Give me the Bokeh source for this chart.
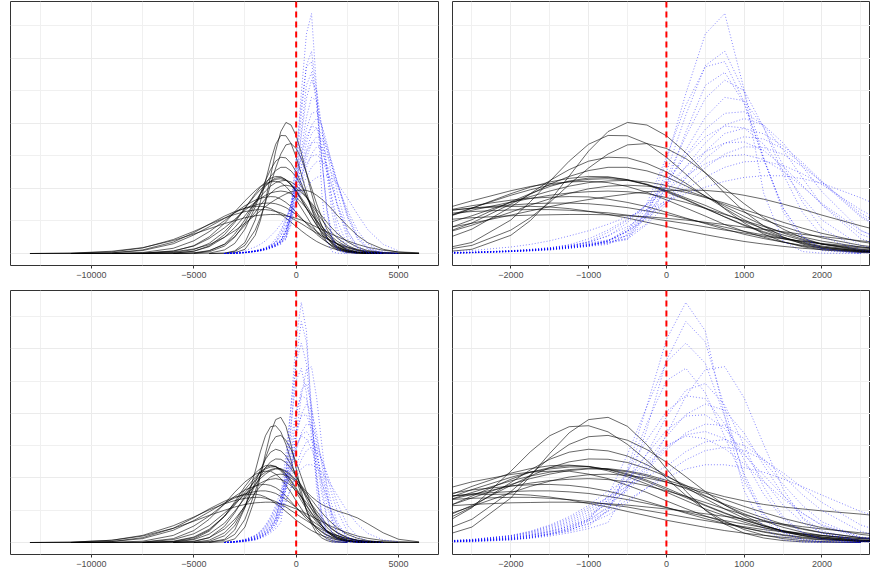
from bokeh.plotting import figure
from bokeh.layouts import column, row
from bokeh.models import Range1d, FixedTicker, Span
from bokeh.embed import file_html
from bokeh.resources import INLINE

# ---------------- data ----------------
X_GRID = [-13000, -11000, -9000, -7500, -6000, -5000, -4250, -3500, -3000, -2500,
          -2000, -1750, -1500, -1250, -1000, -750, -500, -250, 0, 250, 500, 750,
          1000, 1250, 1500, 1750, 2000, 2500, 3000, 3500, 4250, 5000, 6000]

TICKS_FULL = [-10000, -5000, 0, 5000]
MINOR_FULL = [-12500, -7500, -2500, 2500]
TICKS_ZOOM = [-2000, -1000, 0, 1000, 2000]
MINOR_ZOOM = [-2500, -1500, -500, 500, 1500, 2500]
Y_TICKS = [0, 2, 4, 6]
Y_MINOR = [1, 3, 5, 7]
REF_X = 0

# top dataset: (first x, density values on X_GRID from that x)
TOP_BLACK_01 = (-3500, [0.00, 0.02, 0.13, 0.56, 1.01, 1.62, 2.38, 3.15, 3.75, 4.03, 3.95, 3.62, 3.10, 2.48, 1.85, 1.29, 0.85, 0.51, 0.29, 0.16, 0.04, 0.01, 0.00])
TOP_BLACK_02 = (-4250, [0.00, 0.01, 0.08, 0.34, 1.03, 1.59, 2.22, 2.84, 3.36, 3.63, 3.62, 3.38, 2.96, 2.44, 1.89, 1.37, 0.94, 0.60, 0.36, 0.21, 0.11, 0.03, 0.00])
TOP_BLACK_03 = (-4250, [0.00, 0.01, 0.06, 0.25, 0.72, 1.10, 1.57, 2.12, 2.63, 3.06, 3.34, 3.38, 3.23, 2.92, 2.48, 2.01, 1.53, 1.10, 0.75, 0.48, 0.29, 0.09, 0.02, 0.00])
TOP_BLACK_04 = (-5000, [0.00, 0.01, 0.11, 0.31, 0.75, 1.43, 1.84, 2.24, 2.58, 2.84, 2.96, 2.94, 2.77, 2.51, 2.16, 1.76, 1.39, 1.04, 0.74, 0.50, 0.33, 0.20, 0.07, 0.02, 0.00])
TOP_BLACK_05 = (-6000, [0.00, 0.01, 0.05, 0.23, 0.50, 0.94, 1.52, 1.82, 2.13, 2.37, 2.55, 2.65, 2.65, 2.54, 2.35, 2.08, 1.77, 1.45, 1.14, 0.86, 0.63, 0.44, 0.29, 0.12, 0.04, 0.01, 0.00])
TOP_BLACK_06 = (-9000, [0.00, 0.00, 0.01, 0.07, 0.23, 0.58, 0.95, 1.39, 1.84, 2.04, 2.20, 2.31, 2.37, 2.36, 2.27, 2.11, 1.89, 1.65, 1.38, 1.13, 0.88, 0.67, 0.49, 0.35, 0.23, 0.10, 0.04, 0.01, 0.00])
TOP_BLACK_07 = (-9000, [0.00, 0.00, 0.03, 0.12, 0.31, 0.67, 1.00, 1.40, 1.79, 1.96, 2.10, 2.21, 2.28, 2.30, 2.25, 2.12, 1.92, 1.67, 1.40, 1.12, 0.86, 0.64, 0.46, 0.31, 0.20, 0.08, 0.03, 0.01, 0.00])
TOP_BLACK_08 = (-7500, [0.00, 0.01, 0.07, 0.21, 0.50, 0.80, 1.16, 1.57, 1.75, 1.92, 2.07, 2.18, 2.23, 2.25, 2.20, 2.09, 1.94, 1.74, 1.50, 1.27, 1.04, 0.83, 0.64, 0.48, 0.25, 0.11, 0.05, 0.01, 0.00])
TOP_BLACK_09 = (-11000, [0.00, 0.00, 0.01, 0.07, 0.24, 0.51, 0.93, 1.28, 1.62, 1.93, 2.06, 2.15, 2.20, 2.22, 2.18, 2.06, 1.88, 1.65, 1.40, 1.15, 0.89, 0.68, 0.50, 0.35, 0.23, 0.15, 0.06, 0.02, 0.01, 0.00])
TOP_BLACK_10 = (-11000, [0.00, 0.00, 0.01, 0.08, 0.23, 0.46, 0.79, 1.05, 1.33, 1.58, 1.69, 1.79, 1.86, 1.90, 1.92, 1.90, 1.84, 1.72, 1.57, 1.39, 1.20, 1.01, 0.83, 0.65, 0.51, 0.38, 0.20, 0.09, 0.04, 0.01, 0.00])
TOP_BLACK_11 = (-9000, [0.00, 0.01, 0.05, 0.14, 0.27, 0.50, 0.70, 0.93, 1.18, 1.31, 1.44, 1.56, 1.66, 1.75, 1.83, 1.90, 1.93, 1.95, 1.94, 1.89, 1.79, 1.67, 1.52, 1.36, 1.18, 0.85, 0.55, 0.33, 0.13, 0.04, 0.01])
TOP_BLACK_12 = (-13000, [0.00, 0.00, 0.02, 0.09, 0.30, 0.57, 0.82, 1.08, 1.26, 1.40, 1.49, 1.53, 1.55, 1.55, 1.53, 1.48, 1.41, 1.31, 1.20, 1.07, 0.94, 0.81, 0.68, 0.57, 0.46, 0.37, 0.29, 0.17, 0.09, 0.04, 0.01, 0.00, 0.00])
TOP_BLACK_13 = (-13000, [0.00, 0.01, 0.05, 0.17, 0.43, 0.68, 0.89, 1.09, 1.20, 1.29, 1.34, 1.35, 1.35, 1.33, 1.29, 1.25, 1.18, 1.10, 1.01, 0.92, 0.82, 0.72, 0.63, 0.53, 0.45, 0.38, 0.31, 0.20, 0.12, 0.07, 0.03, 0.01, 0.00])
TOP_BLACK_14 = (-13000, [0.00, 0.01, 0.07, 0.18, 0.40, 0.60, 0.76, 0.92, 1.01, 1.10, 1.16, 1.18, 1.19, 1.20, 1.20, 1.19, 1.16, 1.13, 1.08, 1.03, 0.96, 0.89, 0.81, 0.74, 0.67, 0.59, 0.52, 0.39, 0.28, 0.19, 0.10, 0.05, 0.02])
TOP_BLACK_15 = (-11000, [0.00, 0.02, 0.11, 0.35, 0.64, 0.90, 1.15, 1.29, 1.39, 1.45, 1.45, 1.43, 1.38, 1.30, 1.20, 1.09, 0.96, 0.83, 0.70, 0.58, 0.47, 0.37, 0.29, 0.22, 0.16, 0.12, 0.06, 0.03, 0.01, 0.00])
TOP_BLACK_16 = (-11000, [0.00, 0.00, 0.03, 0.16, 0.39, 0.67, 1.01, 1.25, 1.47, 1.64, 1.70, 1.73, 1.75, 1.74, 1.67, 1.57, 1.44, 1.27, 1.09, 0.92, 0.75, 0.59, 0.46, 0.35, 0.25, 0.18, 0.08, 0.03, 0.01, 0.00])
TOP_BLACK_17 = (-7500, [0.00, 0.00, 0.02, 0.09, 0.28, 0.52, 0.87, 1.27, 1.49, 1.68, 1.85, 1.99, 2.07, 2.10, 2.07, 2.00, 1.88, 1.72, 1.55, 1.35, 1.16, 0.96, 0.78, 0.62, 0.36, 0.19, 0.09, 0.03, 0.01, 0.00])
TOP_BLACK_18 = (-6000, [0.00, 0.01, 0.08, 0.29, 0.60, 1.04, 1.59, 1.84, 2.06, 2.23, 2.32, 2.34, 2.27, 2.13, 1.94, 1.71, 1.48, 1.22, 0.98, 0.76, 0.57, 0.41, 0.29, 0.13, 0.05, 0.02, 0.00])

TOP_BLUE_01 = (-3500, [0.00, 0.01, 0.03, 0.07, 0.10, 0.14, 0.20, 0.27, 0.35, 0.47, 1.28, 2.85, 4.92, 6.75, 7.38, 5.03, 1.86, 0.38, 0.06, 0.01, 0.00])
TOP_BLUE_02 = (-3500, [0.00, 0.01, 0.03, 0.06, 0.09, 0.13, 0.18, 0.24, 0.32, 0.43, 1.17, 2.50, 4.26, 5.78, 6.22, 4.97, 2.95, 1.28, 0.41, 0.09, 0.00])
TOP_BLUE_03 = (-3500, [0.00, 0.01, 0.03, 0.08, 0.11, 0.15, 0.22, 0.30, 0.39, 0.67, 1.55, 2.96, 4.56, 5.74, 5.90, 4.66, 2.90, 1.40, 0.53, 0.15, 0.02, 0.00])
TOP_BLUE_04 = (-3500, [0.00, 0.01, 0.02, 0.06, 0.08, 0.11, 0.16, 0.22, 0.28, 0.59, 1.28, 2.33, 3.60, 4.77, 5.33, 5.01, 3.88, 2.45, 1.26, 0.54, 0.05, 0.00])
TOP_BLUE_05 = (-3500, [0.00, 0.01, 0.04, 0.08, 0.12, 0.17, 0.24, 0.32, 0.42, 0.54, 0.92, 2.10, 3.74, 5.17, 5.57, 4.61, 2.89, 1.39, 0.51, 0.14, 0.00])
TOP_BLUE_06 = (-3500, [0.00, 0.01, 0.03, 0.07, 0.10, 0.14, 0.20, 0.27, 0.39, 0.77, 1.37, 2.14, 3.01, 3.82, 4.31, 4.36, 3.94, 3.19, 2.32, 1.49, 0.45, 0.09, 0.01, 0.00])
TOP_BLUE_07 = (-3500, [0.00, 0.01, 0.03, 0.06, 0.09, 0.13, 0.18, 0.24, 0.38, 0.71, 1.23, 1.90, 2.67, 3.40, 3.95, 4.15, 3.95, 3.40, 2.67, 1.90, 0.71, 0.18, 0.03, 0.00])
TOP_BLUE_08 = (-3500, [0.00, 0.01, 0.04, 0.09, 0.13, 0.18, 0.26, 0.35, 0.53, 0.95, 1.52, 2.25, 2.98, 3.59, 3.92, 3.86, 3.36, 2.56, 1.72, 1.03, 0.24, 0.04, 0.00])
TOP_BLUE_09 = (-3500, [0.00, 0.01, 0.03, 0.07, 0.10, 0.14, 0.20, 0.27, 0.38, 0.69, 1.12, 1.67, 2.31, 2.92, 3.39, 3.59, 3.52, 3.22, 2.74, 2.18, 1.12, 0.44, 0.13, 0.01, 0.00])
TOP_BLUE_10 = (-3500, [0.00, 0.01, 0.03, 0.08, 0.11, 0.15, 0.22, 0.37, 0.65, 1.02, 1.52, 2.09, 2.66, 3.13, 3.40, 3.43, 3.17, 2.68, 2.09, 1.50, 0.59, 0.16, 0.03, 0.00])
TOP_BLUE_11 = (-3500, [0.00, 0.01, 0.02, 0.06, 0.08, 0.11, 0.16, 0.22, 0.40, 0.68, 1.07, 1.57, 2.12, 2.64, 3.06, 3.28, 3.26, 3.05, 2.67, 2.20, 1.24, 0.54, 0.18, 0.02, 0.00])
TOP_BLUE_12 = (-3500, [0.00, 0.01, 0.04, 0.08, 0.12, 0.17, 0.27, 0.45, 0.72, 1.06, 1.49, 1.94, 2.39, 2.76, 2.99, 3.04, 2.89, 2.53, 2.05, 1.54, 0.70, 0.23, 0.05, 0.00])
TOP_BLUE_13 = (-3500, [0.00, 0.01, 0.03, 0.07, 0.10, 0.14, 0.21, 0.35, 0.55, 0.83, 1.18, 1.56, 1.97, 2.35, 2.65, 2.82, 2.84, 2.71, 2.45, 2.12, 1.34, 0.70, 0.29, 0.05, 0.00])
TOP_BLUE_14 = (-3500, [0.01, 0.04, 0.09, 0.20, 0.28, 0.39, 0.54, 0.70, 0.90, 1.13, 1.35, 1.60, 1.84, 2.04, 2.22, 2.34, 2.39, 2.39, 2.30, 2.16, 1.71, 1.20, 0.73, 0.28, 0.08])
TOP_BLUE_15 = (-3500, [0.00, 0.01, 0.03, 0.06, 0.09, 0.13, 0.18, 0.24, 0.32, 0.56, 1.16, 2.06, 3.18, 4.19, 4.80, 4.70, 3.88, 2.71, 1.58, 0.77, 0.11, 0.00])
TOP_BLUE_16 = (-3500, [0.00, 0.01, 0.03, 0.07, 0.10, 0.14, 0.20, 0.27, 0.35, 0.45, 0.89, 1.52, 2.34, 3.14, 3.69, 3.85, 3.68, 3.31, 2.80, 2.22, 1.16, 0.47, 0.15, 0.02, 0.00])

# bottom dataset
BOT_BLACK_01 = (-4250, [0.00, 0.02, 0.11, 0.48, 1.38, 2.06, 2.76, 3.40, 3.81, 3.88, 3.60, 3.03, 2.29, 1.59, 1.00, 0.57, 0.29, 0.14, 0.06, 0.02, 0.01, 0.00])
BOT_BLACK_02 = (-5000, [0.00, 0.01, 0.10, 0.39, 1.08, 2.21, 2.81, 3.31, 3.59, 3.62, 3.43, 3.04, 2.54, 1.99, 1.46, 1.01, 0.66, 0.40, 0.23, 0.12, 0.06, 0.03, 0.00])
BOT_BLACK_03 = (-5000, [0.00, 0.01, 0.07, 0.25, 0.72, 1.58, 2.10, 2.62, 3.04, 3.28, 3.32, 3.17, 2.88, 2.49, 2.04, 1.58, 1.16, 0.83, 0.55, 0.34, 0.21, 0.12, 0.03, 0.01, 0.00])
BOT_BLACK_04 = (-6000, [0.00, 0.00, 0.03, 0.21, 0.52, 1.10, 1.86, 2.25, 2.58, 2.80, 2.89, 2.84, 2.68, 2.41, 2.08, 1.72, 1.36, 1.04, 0.75, 0.52, 0.35, 0.22, 0.13, 0.04, 0.01, 0.00])
BOT_BLACK_05 = (-6000, [0.00, 0.01, 0.07, 0.30, 0.63, 1.15, 1.77, 2.06, 2.32, 2.50, 2.59, 2.58, 2.48, 2.29, 2.05, 1.77, 1.45, 1.16, 0.89, 0.67, 0.47, 0.32, 0.22, 0.08, 0.03, 0.01, 0.00])
BOT_BLACK_06 = (-7500, [0.00, 0.02, 0.11, 0.35, 0.81, 1.26, 1.74, 2.15, 2.29, 2.38, 2.40, 2.35, 2.22, 2.04, 1.81, 1.56, 1.30, 1.04, 0.83, 0.63, 0.46, 0.32, 0.22, 0.15, 0.06, 0.02, 0.01, 0.00])
BOT_BLACK_07 = (-7500, [0.00, 0.03, 0.15, 0.38, 0.82, 1.21, 1.64, 2.02, 2.18, 2.28, 2.34, 2.35, 2.27, 2.13, 1.93, 1.69, 1.43, 1.16, 0.92, 0.70, 0.52, 0.36, 0.25, 0.17, 0.07, 0.02, 0.01, 0.00])
BOT_BLACK_08 = (-7500, [0.00, 0.01, 0.09, 0.26, 0.60, 0.97, 1.38, 1.80, 1.98, 2.12, 2.23, 2.28, 2.27, 2.19, 2.06, 1.88, 1.67, 1.43, 1.19, 0.97, 0.76, 0.57, 0.43, 0.31, 0.15, 0.06, 0.02, 0.00])
BOT_BLACK_09 = (-11000, [0.00, 0.00, 0.01, 0.12, 0.37, 0.72, 1.20, 1.56, 1.88, 2.11, 2.18, 2.21, 2.21, 2.12, 1.98, 1.77, 1.55, 1.29, 1.05, 0.82, 0.63, 0.46, 0.32, 0.22, 0.15, 0.09, 0.03, 0.01, 0.00])
BOT_BLACK_10 = (-11000, [0.00, 0.00, 0.01, 0.09, 0.27, 0.52, 0.91, 1.20, 1.49, 1.75, 1.84, 1.92, 1.96, 1.98, 1.95, 1.88, 1.76, 1.60, 1.43, 1.24, 1.04, 0.86, 0.69, 0.54, 0.41, 0.30, 0.15, 0.07, 0.03, 0.01, 0.00])
BOT_BLACK_11 = (-11000, [0.00, 0.00, 0.00, 0.04, 0.17, 0.41, 0.81, 1.16, 1.55, 1.91, 2.06, 2.18, 2.26, 2.30, 2.29, 2.22, 2.10, 1.93, 1.76, 1.58, 1.42, 1.29, 1.18, 1.10, 1.04, 0.98, 0.88, 0.76, 0.58, 0.30, 0.10, 0.02])
BOT_BLACK_12 = (-13000, [0.00, 0.00, 0.03, 0.12, 0.38, 0.68, 0.95, 1.23, 1.38, 1.51, 1.58, 1.60, 1.60, 1.57, 1.52, 1.43, 1.33, 1.21, 1.08, 0.94, 0.81, 0.68, 0.57, 0.46, 0.36, 0.28, 0.22, 0.12, 0.06, 0.03, 0.01, 0.00, 0.00])
BOT_BLACK_13 = (-13000, [0.00, 0.01, 0.07, 0.22, 0.52, 0.79, 1.01, 1.20, 1.30, 1.37, 1.40, 1.40, 1.37, 1.33, 1.27, 1.18, 1.10, 0.99, 0.89, 0.78, 0.68, 0.58, 0.49, 0.40, 0.33, 0.26, 0.21, 0.12, 0.07, 0.04, 0.01, 0.00, 0.00])
BOT_BLACK_14 = (-13000, [0.00, 0.01, 0.07, 0.20, 0.44, 0.66, 0.84, 1.00, 1.10, 1.18, 1.23, 1.24, 1.25, 1.25, 1.23, 1.20, 1.16, 1.10, 1.04, 0.97, 0.89, 0.81, 0.73, 0.65, 0.57, 0.49, 0.42, 0.30, 0.20, 0.13, 0.06, 0.03, 0.01])
BOT_BLACK_15 = (-11000, [0.00, 0.03, 0.15, 0.44, 0.77, 1.04, 1.28, 1.41, 1.48, 1.50, 1.47, 1.41, 1.32, 1.21, 1.10, 0.96, 0.83, 0.69, 0.58, 0.47, 0.37, 0.29, 0.22, 0.16, 0.12, 0.08, 0.04, 0.02, 0.01, 0.00])
BOT_BLACK_16 = (-11000, [0.00, 0.01, 0.04, 0.22, 0.51, 0.82, 1.19, 1.43, 1.63, 1.75, 1.79, 1.80, 1.77, 1.70, 1.59, 1.44, 1.27, 1.09, 0.91, 0.74, 0.59, 0.45, 0.34, 0.24, 0.17, 0.12, 0.05, 0.02, 0.01, 0.00])
BOT_BLACK_17 = (-7500, [0.00, 0.01, 0.04, 0.15, 0.42, 0.72, 1.12, 1.54, 1.74, 1.90, 2.03, 2.10, 2.12, 2.08, 2.00, 1.87, 1.70, 1.53, 1.33, 1.12, 0.93, 0.75, 0.60, 0.46, 0.25, 0.13, 0.06, 0.01, 0.00])
BOT_BLACK_18 = (-6000, [0.00, 0.03, 0.15, 0.50, 0.92, 1.44, 1.96, 2.18, 2.32, 2.38, 2.36, 2.26, 2.10, 1.89, 1.64, 1.39, 1.14, 0.90, 0.69, 0.51, 0.37, 0.26, 0.17, 0.07, 0.03, 0.01, 0.00])

BOT_BLUE_01 = (-3500, [0.00, 0.02, 0.05, 0.11, 0.18, 0.27, 0.40, 0.58, 0.97, 2.27, 4.24, 6.29, 7.44, 6.56, 3.92, 1.61, 0.44, 0.08, 0.01, 0.00])
BOT_BLUE_02 = (-3500, [0.00, 0.01, 0.04, 0.08, 0.13, 0.20, 0.30, 0.43, 0.62, 1.71, 3.53, 5.64, 6.85, 6.22, 4.16, 2.03, 0.74, 0.19, 0.04, 0.01, 0.00])
BOT_BLUE_03 = (-3500, [0.00, 0.02, 0.06, 0.14, 0.22, 0.34, 0.50, 0.72, 1.46, 2.73, 4.23, 5.59, 6.18, 5.56, 3.90, 2.13, 0.90, 0.30, 0.08, 0.02, 0.00])
BOT_BLUE_04 = (-3500, [0.00, 0.02, 0.07, 0.17, 0.26, 0.41, 0.60, 0.86, 1.20, 1.62, 2.16, 3.34, 4.54, 5.36, 5.45, 4.48, 3.04, 1.66, 0.74, 0.28, 0.02, 0.00])
BOT_BLUE_05 = (-3500, [0.00, 0.03, 0.08, 0.20, 0.31, 0.48, 0.70, 1.01, 1.40, 1.89, 2.76, 3.90, 4.72, 4.93, 4.26, 3.00, 1.73, 0.80, 0.31, 0.09, 0.00])
BOT_BLUE_06 = (-3500, [0.00, 0.02, 0.05, 0.13, 0.20, 0.31, 0.45, 0.71, 1.34, 2.21, 3.18, 4.06, 4.55, 4.46, 3.68, 2.57, 1.50, 0.73, 0.30, 0.11, 0.00])
BOT_BLUE_07 = (-3500, [0.00, 0.03, 0.10, 0.22, 0.35, 0.54, 0.80, 1.15, 1.60, 1.95, 2.50, 3.29, 3.97, 4.29, 4.10, 3.39, 2.40, 1.48, 0.78, 0.36, 0.05, 0.00])
BOT_BLUE_08 = (-3500, [0.00, 0.02, 0.07, 0.15, 0.24, 0.37, 0.55, 0.79, 1.24, 1.95, 2.74, 3.48, 3.92, 3.96, 3.53, 2.76, 1.92, 1.16, 0.62, 0.29, 0.04, 0.00])
BOT_BLUE_09 = (-3500, [0.00, 0.03, 0.08, 0.18, 0.29, 0.44, 0.65, 0.94, 1.30, 1.76, 2.25, 2.87, 3.40, 3.67, 3.63, 3.22, 2.53, 1.80, 1.15, 0.64, 0.15, 0.02, 0.00])
BOT_BLUE_10 = (-3500, [0.00, 0.01, 0.04, 0.10, 0.15, 0.24, 0.36, 0.67, 1.12, 1.70, 2.35, 2.95, 3.34, 3.44, 3.22, 2.72, 2.09, 1.46, 0.91, 0.52, 0.13, 0.02, 0.00])
BOT_BLUE_11 = (-3500, [0.00, 0.03, 0.09, 0.21, 0.33, 0.51, 0.75, 1.08, 1.40, 1.75, 2.05, 2.36, 2.82, 3.12, 3.19, 3.01, 2.59, 2.06, 1.48, 0.99, 0.34, 0.08, 0.01, 0.00])
BOT_BLUE_12 = (-3500, [0.00, 0.02, 0.06, 0.14, 0.22, 0.34, 0.50, 0.72, 1.07, 1.72, 2.42, 3.01, 3.30, 3.22, 2.91, 2.44, 1.88, 1.36, 0.90, 0.55, 0.17, 0.04, 0.00])
BOT_BLUE_13 = (-3500, [0.00, 0.02, 0.05, 0.11, 0.18, 0.27, 0.40, 0.58, 0.85, 1.24, 1.70, 2.16, 2.56, 2.85, 2.95, 2.85, 2.56, 2.16, 1.70, 1.24, 0.54, 0.18, 0.04, 0.00])
BOT_BLUE_14 = (-3500, [0.00, 0.01, 0.02, 0.08, 0.15, 0.27, 0.44, 0.67, 0.97, 1.32, 1.69, 2.02, 2.28, 2.41, 2.41, 2.32, 2.18, 1.97, 1.73, 1.47, 0.96, 0.56, 0.28, 0.08, 0.02])
BOT_BLUE_15 = (-3500, [0.00, 0.01, 0.04, 0.10, 0.15, 0.24, 0.35, 0.50, 1.02, 2.17, 3.70, 5.02, 5.40, 4.64, 3.28, 1.88, 0.87, 0.33, 0.10, 0.03, 0.00])

TOP_BLACK = [TOP_BLACK_01, TOP_BLACK_02, TOP_BLACK_03, TOP_BLACK_04, TOP_BLACK_05, TOP_BLACK_06,
             TOP_BLACK_07, TOP_BLACK_08, TOP_BLACK_09, TOP_BLACK_10, TOP_BLACK_11, TOP_BLACK_12,
             TOP_BLACK_13, TOP_BLACK_14, TOP_BLACK_15, TOP_BLACK_16, TOP_BLACK_17, TOP_BLACK_18]
TOP_BLUE = [TOP_BLUE_01, TOP_BLUE_02, TOP_BLUE_03, TOP_BLUE_04, TOP_BLUE_05, TOP_BLUE_06,
            TOP_BLUE_07, TOP_BLUE_08, TOP_BLUE_09, TOP_BLUE_10, TOP_BLUE_11, TOP_BLUE_12,
            TOP_BLUE_13, TOP_BLUE_14, TOP_BLUE_15, TOP_BLUE_16]
BOT_BLACK = [BOT_BLACK_01, BOT_BLACK_02, BOT_BLACK_03, BOT_BLACK_04, BOT_BLACK_05, BOT_BLACK_06,
             BOT_BLACK_07, BOT_BLACK_08, BOT_BLACK_09, BOT_BLACK_10, BOT_BLACK_11, BOT_BLACK_12,
             BOT_BLACK_13, BOT_BLACK_14, BOT_BLACK_15, BOT_BLACK_16, BOT_BLACK_17, BOT_BLACK_18]
BOT_BLUE = [BOT_BLUE_01, BOT_BLUE_02, BOT_BLUE_03, BOT_BLUE_04, BOT_BLUE_05, BOT_BLUE_06,
            BOT_BLUE_07, BOT_BLUE_08, BOT_BLUE_09, BOT_BLUE_10, BOT_BLUE_11, BOT_BLUE_12,
            BOT_BLUE_13, BOT_BLUE_14, BOT_BLUE_15]

FULL_RANGE = (-13950, 6950)
ZOOM_RANGE = (-2750, 2624)
TOP_Y = (-0.369, 7.749)
BOT_Y = (-0.372, 7.812)


def to_xy(curves):
    xs, ys = [], []
    for start, vals in curves:
        i = X_GRID.index(start)
        xx = X_GRID[i:i + len(vals)]
        xs.append(xx)
        ys.append(vals[:len(xx)])
    return xs, ys


def panel(black, blue, xr, yr, ticks, minor, fw, fh, bl, br, bt, bb):
    p = figure(frame_width=fw, frame_height=fh,
               x_range=Range1d(*xr), y_range=Range1d(*yr),
               toolbar_location=None, output_backend="svg",
               y_axis_location=None,
               min_border_left=bl, min_border_right=br,
               min_border_top=bt, min_border_bottom=bb)
    p.background_fill_color = "white"
    p.border_fill_color = "white"
    p.outline_line_color = "#333333"
    p.outline_line_width = 1

    p.xaxis.ticker = FixedTicker(ticks=ticks, minor_ticks=minor)
    p.xaxis.axis_line_color = None
    p.xaxis.major_tick_out = 3
    p.xaxis.major_tick_in = 0
    p.xaxis.major_tick_line_color = "#333333"
    p.xaxis.minor_tick_line_color = None
    p.xaxis.major_label_standoff = 2
    p.xaxis.major_label_text_font = "Liberation Sans"
    p.xaxis.major_label_text_font_size = "9px"
    p.xaxis.major_label_text_color = "#4d4d4d"

    p.xgrid.grid_line_color = "#ebebeb"
    p.xgrid.minor_grid_line_color = "#f0f0f0"
    p.ygrid.ticker = FixedTicker(ticks=Y_TICKS, minor_ticks=Y_MINOR)
    p.ygrid.grid_line_color = "#ebebeb"
    p.ygrid.minor_grid_line_color = "#f0f0f0"

    bx, by = to_xy(black)
    p.multi_line(xs=bx, ys=by, line_color="black", line_width=0.7, line_alpha=0.85)
    ux, uy = to_xy(blue)
    p.multi_line(xs=ux, ys=uy, line_color="#0000ff", line_width=0.8,
                 line_alpha=0.6, line_dash="1 2")
    p.add_layout(Span(location=REF_X, dimension="height", line_color="red",
                      line_width=2, line_dash="6 4"))
    return p


p1 = panel(TOP_BLACK, TOP_BLUE, FULL_RANGE, TOP_Y, TICKS_FULL, MINOR_FULL, 428, 264, 10, 7, 1, 25)
p2 = panel(TOP_BLACK, TOP_BLUE, ZOOM_RANGE, TOP_Y, TICKS_ZOOM, MINOR_ZOOM, 418, 264, 7, 0, 1, 25)
p3 = panel(BOT_BLACK, BOT_BLUE, FULL_RANGE, BOT_Y, TICKS_FULL, MINOR_FULL, 428, 264, 10, 7, 0, 17)
p4 = panel(BOT_BLACK, BOT_BLUE, ZOOM_RANGE, BOT_Y, TICKS_ZOOM, MINOR_ZOOM, 418, 264, 7, 0, 0, 17)

layout = column(row(p1, p2), row(p3, p4))

with open("out.html", "w") as f:
    f.write(file_html(layout, INLINE))
